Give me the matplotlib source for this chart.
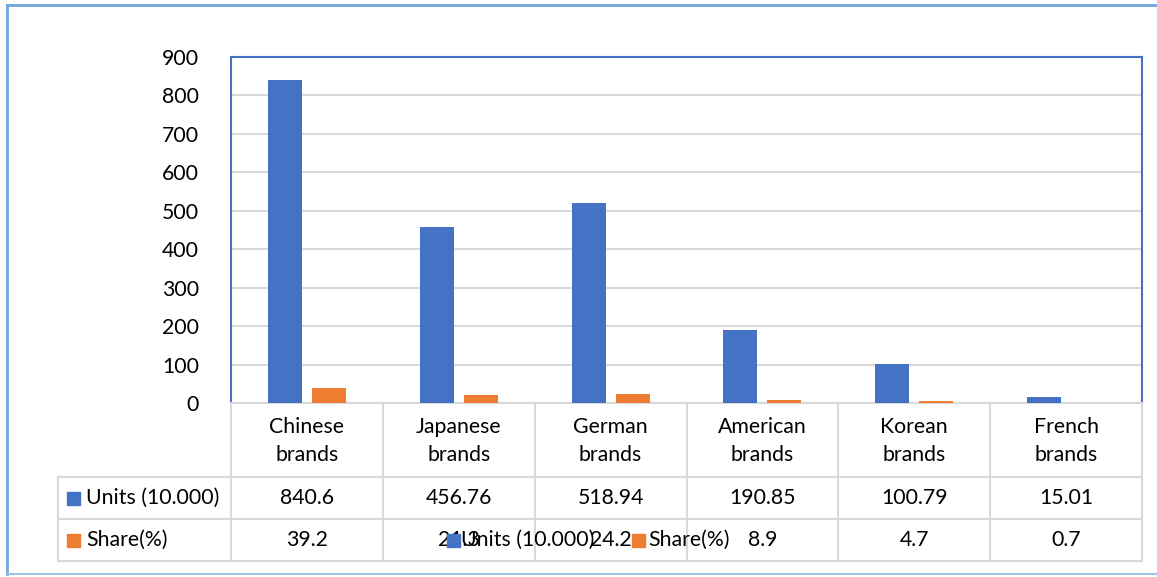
import matplotlib.pyplot as plt
from matplotlib.patches import Rectangle
from matplotlib.lines import Line2D

categories = ["Chinese\nbrands", "Japanese\nbrands", "German\nbrands",
              "American\nbrands", "Korean\nbrands", "French\nbrands"]
units = [840.6, 456.76, 518.94, 190.85, 100.79, 15.01]
share = [39.2, 21.3, 24.2, 8.9, 4.7, 0.7]
units_txt = ["840.6", "456.76", "518.94", "190.85", "100.79", "15.01"]
share_txt = ["39.2", "21.3", "24.2", "8.9", "4.7", "0.7"]
series_names = ["Units (10.000)", "Share(%)"]

blue = "#4472C4"
orange = "#ED7D31"
grid = "#D9D9D9"
fs = 15.3
plt.rcParams["font.family"] = ["Lato", "DejaVu Sans"]

W, H = 1157, 577
fig = plt.figure(figsize=(W / 100, H / 100), dpi=100)

def fx(px):
    return px / W

def fy(py):
    return 1 - py / H

# outer chart frame
fig.add_artist(Line2D([fx(7), fx(7)], [fy(5), fy(574)], color="#6FA8DC", lw=2))
fig.add_artist(Line2D([fx(7), 1], [fy(5), fy(5)], color="#6FA8DC", lw=2))
fig.add_artist(Line2D([fx(7), 1], [fy(574), fy(574)], color="#9DC3E6", lw=1.5))

# plot area
L, R, T, B = 231, 1142, 57, 403
ax = fig.add_axes([fx(L), fy(B), fx(R - L), (B - T) / H])
x = list(range(len(categories)))
bw = 0.224
ax.bar([i - 0.145 for i in x], units, width=bw, color=blue, zorder=3)
ax.bar([i + 0.145 for i in x], share, width=bw, color=orange, zorder=3)
ax.set_xlim(-0.5, len(categories) - 0.5)
ax.set_ylim(0, 900)
ax.set_yticks(range(0, 901, 100))
ax.yaxis.grid(True, color=grid, lw=1.5, zorder=0)
ax.set_xticks([])
ax.tick_params(axis="y", length=0, pad=23, labelsize=fs)
for s in ["left", "top", "right"]:
    ax.spines[s].set_color(blue)
    ax.spines[s].set_linewidth(1.5)
ax.spines["bottom"].set_color(grid)
ax.spines["bottom"].set_linewidth(1.5)

# data table
cols = [L + (R - L) * k / len(categories) for k in range(len(categories) + 1)]
r0, r1, r2, r3 = 403, 477, 519, 561
lx = 58
for c in cols:
    fig.add_artist(Line2D([fx(c), fx(c)], [fy(r0), fy(r3)], color=grid, lw=1.5))
fig.add_artist(Line2D([fx(lx), fx(lx)], [fy(r1), fy(r3)], color=grid, lw=1.5))
for r in [r1, r2, r3]:
    fig.add_artist(Line2D([fx(lx), fx(R)], [fy(r), fy(r)], color=grid, lw=1.5))

for i, cat in enumerate(categories):
    cx = fx((cols[i] + cols[i + 1]) / 2)
    fig.text(cx, fy((r0 + r1) / 2 + 1), cat, ha="center", va="center",
             fontsize=fs, linespacing=1.55)
    fig.text(cx, fy((r1 + r2) / 2), units_txt[i], ha="center", va="center", fontsize=fs)
    fig.text(cx, fy((r2 + r3) / 2), share_txt[i], ha="center", va="center", fontsize=fs)

for rowc, col, name in [((r1 + r2) / 2, blue, series_names[0]),
                        ((r2 + r3) / 2, orange, series_names[1])]:
    fig.add_artist(Rectangle((fx(67), fy(rowc + 7)), fx(13), 13 / H, color=col))
    fig.text(fx(86), fy(rowc), name, ha="left", va="center", fontsize=fs)

# overlapping legend (as in the original)
leg_y = (r2 + r3) / 2
fig.add_artist(Rectangle((fx(447), fy(leg_y + 7)), fx(13), 13 / H, color=blue, zorder=5))
fig.text(fx(461), fy(leg_y), series_names[0], ha="left", va="center", fontsize=fs, zorder=5)
fig.add_artist(Rectangle((fx(632), fy(leg_y + 7)), fx(13), 13 / H, color=orange, zorder=5))
fig.text(fx(648), fy(leg_y), series_names[1], ha="left", va="center", fontsize=fs, zorder=5)

fig.savefig("out.png", dpi=100)
